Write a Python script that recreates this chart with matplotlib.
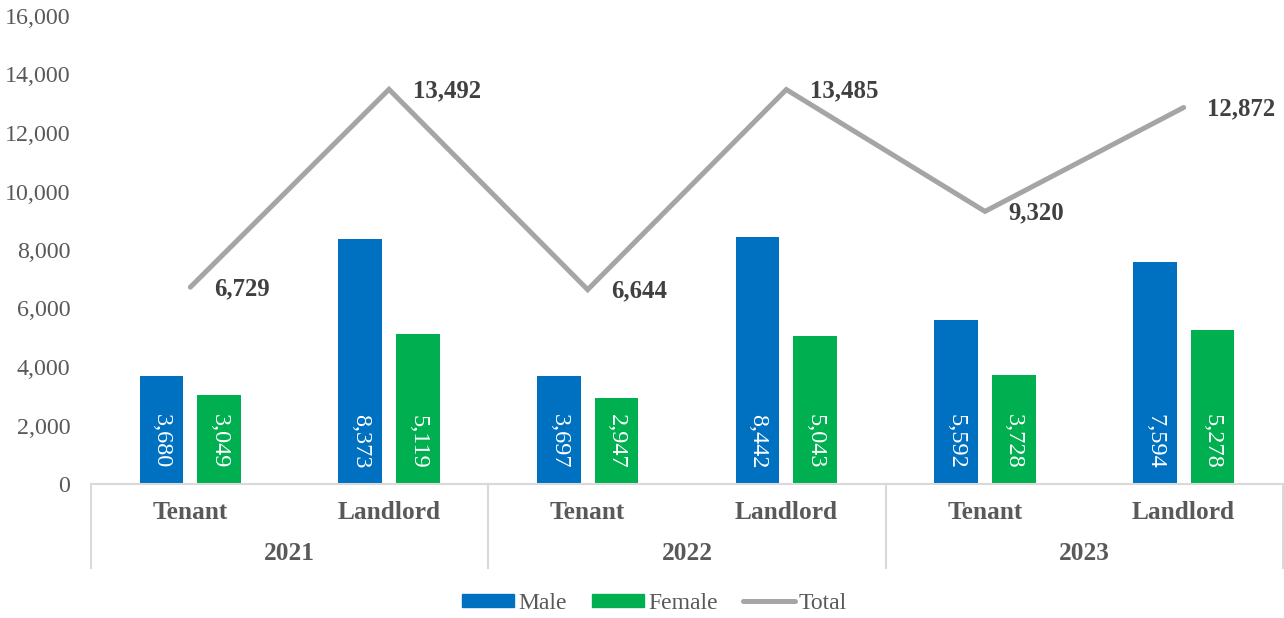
import numpy as np
import matplotlib.pyplot as plt
from matplotlib.patches import Patch
from matplotlib.lines import Line2D

plt.rcParams['font.family'] = ['Liberation Serif', 'DejaVu Serif']

years = ["2021", "2022", "2023"]
roles = ["Tenant", "Landlord"]
male = [3680, 8373, 3697, 8442, 5592, 7594]
female = [3049, 5119, 2947, 5043, 3728, 5278]
total = [6729, 13492, 6644, 13485, 9320, 12872]

c_male = "#0070C0"
c_female = "#00B050"
c_total = "#A5A5A5"
grey_txt = "#595959"
axis_col = "#D9D9D9"

fig = plt.figure(figsize=(12.84, 6.18), dpi=100)
ax = fig.add_axes([91 / 1284, 134 / 618, 1192 / 1284, 468 / 618])

x = np.arange(len(male))
w = 0.22
off = 0.145

ax.bar(x - off, male, w, color=c_male, zorder=2)
ax.bar(x + off, female, w, color=c_female, zorder=2)
ax.plot(x, total, color=c_total, lw=3.6, solid_capstyle="round",
        solid_joinstyle="miter", zorder=3)

# values written inside the bars, reading downwards from near the base
for xi, v in zip(x - off, male):
    ax.annotate(f"{v:,}", (xi, 0), xytext=(0, 11), textcoords="offset points",
                rotation=270, ha="center", va="bottom", color="white", fontsize=17.5)
for xi, v in zip(x + off, female):
    ax.annotate(f"{v:,}", (xi, 0), xytext=(0, 11), textcoords="offset points",
                rotation=270, ha="center", va="bottom", color="white", fontsize=17.5)

# totals to the right of each point
for xi, v in zip(x, total):
    ax.annotate(f"{v:,}", (xi, v), xytext=(17, -1), textcoords="offset points",
                ha="left", va="center", color="#404040", fontsize=17.8, fontweight="bold")

ax.set_xlim(-0.5, 5.5)
ax.set_ylim(0, 16000)
ax.set_yticks(np.arange(0, 16001, 2000))
ax.yaxis.set_major_formatter(plt.FuncFormatter(lambda v, p: f"{int(v):,}"))
ax.tick_params(axis="y", length=0, pad=15, labelsize=17.3, labelcolor=grey_txt)

ax.set_xticks(x)
ax.set_xticklabels(roles * len(years), fontweight="bold", fontsize=18.3, color=grey_txt)
ax.tick_params(axis="x", length=0, pad=12)

for s in ["top", "right", "left"]:
    ax.spines[s].set_visible(False)
ax.spines["bottom"].set_color(axis_col)
ax.spines["bottom"].set_linewidth(1.5)

# two-level category axis: year labels and group separators
trans = ax.get_xaxis_transform()
depth = -(568 - 484) / 468
for i, yr in enumerate(years):
    ax.text(2 * i + 0.5, -(553 - 484) / 468, yr, transform=trans, ha="center",
            va="center", fontweight="bold", fontsize=18.3, color=grey_txt)
for b in [-0.5, 1.5, 3.5, 5.5]:
    ax.add_line(Line2D([b, b], [0, depth], transform=trans, color=axis_col,
                       lw=1.5, clip_on=False))

handles = [Patch(color=c_male, label="Male"),
           Patch(color=c_female, label="Female"),
           Line2D([], [], color=c_total, lw=3.6, solid_capstyle="round", label="Total")]
leg = fig.legend(handles=handles, loc="center", bbox_to_anchor=(0.51, 0.024),
                 ncol=3, frameon=False, fontsize=17, handlelength=2.2,
                 handleheight=0.5, handletextpad=0.15, columnspacing=1.1)
for t in leg.get_texts():
    t.set_color(grey_txt)

fig.savefig("out.png", dpi=100)
